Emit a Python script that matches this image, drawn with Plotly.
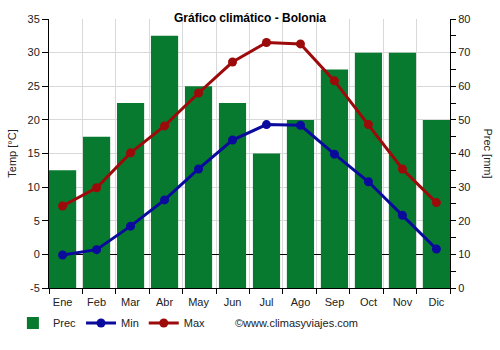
import plotly.graph_objects as go

# Monthly climate data for Bologna
months = ["Ene", "Feb", "Mar", "Abr", "May", "Jun", "Jul", "Ago", "Sep", "Oct", "Nov", "Dic"]
prec_mm = [35, 45, 55, 75, 60, 55, 40, 50, 65, 70, 70, 50]
temp_min = [-0.1, 0.7, 4.2, 8.1, 12.7, 17.0, 19.3, 19.2, 14.9, 10.8, 5.8, 0.8]
temp_max = [7.2, 9.9, 15.1, 19.1, 24.0, 28.6, 31.5, 31.3, 25.8, 19.3, 12.7, 7.7]

temp_ticks = list(range(-5, 40, 5))
temp_labels = [str(t) for t in temp_ticks]
prec_ticks = list(range(0, 90, 10))

GREEN = "#077a30"
BLUE = "#0a0a9c"
RED = "#9c0a0a"
GRID = "#d9d9d9"
TXT = "#222222"
FONT = "Liberation Sans, Arial, sans-serif"

idx = list(range(len(months)))

fig = go.Figure()

# precipitation bars on the base (right-hand) axis so the lines sit on top
fig.add_trace(go.Bar(
    x=idx, y=prec_mm, name="Prec", marker=dict(color=GREEN, line=dict(width=0)),
    width=0.8, yaxis="y", xaxis="x",
))
fig.add_trace(go.Scatter(
    x=idx, y=temp_min, name="Min", mode="lines+markers",
    line=dict(color=BLUE, width=3), marker=dict(size=9, color=BLUE),
    yaxis="y2", xaxis="x",
))
fig.add_trace(go.Scatter(
    x=idx, y=temp_max, name="Max", mode="lines+markers",
    line=dict(color=RED, width=3), marker=dict(size=9, color=RED),
    yaxis="y2", xaxis="x",
))
# helper trace that carries the month-boundary grid axis
fig.add_trace(go.Scatter(
    x=[0, 12], y=[None, None], xaxis="x2", yaxis="y",
    showlegend=False, hoverinfo="skip", mode="lines",
))

fig.update_layout(
    width=500, height=350,
    margin=dict(l=49, r=50, t=19, b=58),
    paper_bgcolor="white", plot_bgcolor="white",
    font=dict(family=FONT, size=11, color=TXT),
    showlegend=True,
    legend=dict(
        orientation="h", x=-0.09, y=-0.13, xanchor="left", yanchor="middle",
        font=dict(size=11, color=TXT), itemwidth=30, bgcolor="rgba(0,0,0,0)",
        traceorder="normal", tracegroupgap=0,
    ),
    bargap=0.2,
    xaxis=dict(
        range=[-0.4, 11.4], tickvals=idx, ticktext=months,
        showgrid=False, zeroline=False, ticks="", showline=False,
        tickfont=dict(size=11, color=TXT), ticklabelstandoff=6,
    ),
    xaxis2=dict(
        overlaying="x", side="bottom", range=[0, 12],
        tickvals=list(range(13)), showticklabels=False,
        showgrid=True, gridcolor=GRID, gridwidth=1,
        ticks="outside", ticklen=5, tickcolor="black",
        showline=True, linecolor="black", linewidth=1, zeroline=False,
    ),
    yaxis=dict(
        range=[0, 80], tickvals=prec_ticks, side="right",
        showgrid=True, gridcolor=GRID, zeroline=False,
        ticks="outside", ticklen=5, tickcolor="black",
        minor=dict(ticks="outside", ticklen=5, dtick=5, tickcolor="black", showgrid=False),
        showline=True, linecolor="black", linewidth=1,
        tickfont=dict(size=11, color=TXT),
    ),
    yaxis2=dict(
        range=[-5, 35], tickvals=temp_ticks, ticktext=temp_labels,
        overlaying="y", side="left", showgrid=False,
        zeroline=True, zerolinecolor="black", zerolinewidth=1,
        ticks="outside", ticklen=6, tickcolor="black",
        showline=True, linecolor="black", linewidth=1,
        tickfont=dict(size=11, color=TXT),
        title=dict(text="Temp [°C]", font=dict(size=11, color=TXT), standoff=8),
    ),
    annotations=[
        dict(text="<b>Gráfico climático - Bolonia</b>", x=0.5, y=1.005, xref="paper", yref="paper",
             xanchor="center", yanchor="middle", showarrow=False,
             font=dict(size=12, color="black")),
        dict(text="Prec [mm]", x=1.095, y=0.5, xref="paper", yref="paper",
             xanchor="center", yanchor="middle", textangle=90, showarrow=False,
             font=dict(size=11, color=TXT)),
        dict(text="©www.climasyviajes.com", x=0.458, y=-0.13, xref="paper", yref="paper",
             xanchor="left", yanchor="middle", showarrow=False,
             font=dict(size=11, color=TXT)),
    ],
)

fig.write_html("out.html")
